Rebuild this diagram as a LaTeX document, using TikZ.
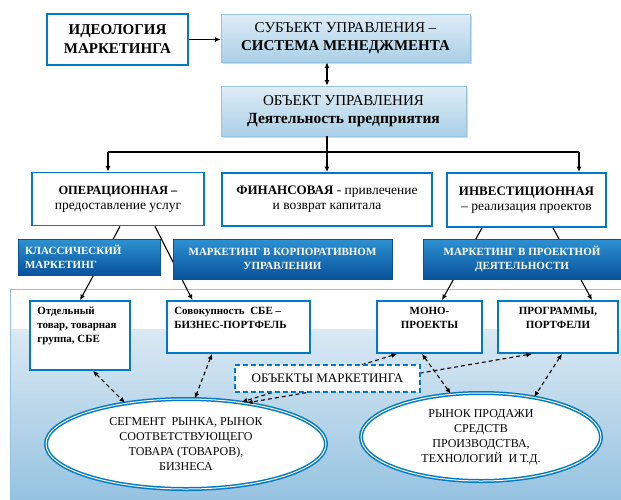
\documentclass[tikz,border=0pt]{standalone}
\usepackage{fontspec}
\setmainfont{Liberation Serif}
\usetikzlibrary{arrows.meta, positioning, calc, shapes.geometric, shadows}
\definecolor{boxblue}{RGB}{0,122,196}
\definecolor{paleedge}{RGB}{150,195,225}
\definecolor{palelight}{RGB}{222,237,246}
\definecolor{paledark}{RGB}{170,207,230}
\definecolor{bannertop}{RGB}{45,145,210}
\definecolor{bannerbot}{RGB}{8,82,155}
\definecolor{panellight}{RGB}{218,233,243}
\definecolor{paneldark}{RGB}{150,195,225}

\begin{document}
\begin{tikzpicture}[
    x=1pt, y=-1pt,
    >={Latex[length=5.5pt,width=5pt]},
    font=\fontsize{13.5}{15}\selectfont,
    whitebox/.style={draw=boxblue, line width=1.8pt, fill=white, align=center, inner sep=2pt},
    headbox/.style={draw=paleedge, line width=0.8pt, top color=palelight, bottom color=paledark, align=center,
        drop shadow={shadow xshift=1.5pt, shadow yshift=-1.5pt, opacity=0.3}},
    banner/.style={draw=bannerbot, line width=0.5pt, top color=bannertop, bottom color=bannerbot, text=white,
        font=\fontsize{11}{14}\selectfont\bfseries, align=center},
    objbox/.style={draw=boxblue, line width=1.8pt, fill=white},
    objtext/.style={font=\fontsize{11}{14}\selectfont\bfseries, inner sep=0pt},
    market/.style={ellipse, draw=boxblue, line width=1.5pt, double=white, double distance=1pt, fill=white,
        align=center, inner sep=0pt, font=\fontsize{12}{15}\selectfont},
    link/.style={->, line width=1.1pt},
    dlink/.style={<->, line width=1.1pt, dash pattern=on 4pt off 3pt}
]
\useasboundingbox (0,0) rectangle (621,499);

% Панель объектов
\fill[white] (10,289) rectangle (621,329);
\shade[top color=panellight, bottom color=paneldark] (10,329) rectangle (621,499);
\draw[paleedge, line width=1pt] (10,499) -- (10,289) -- (621,289);

% Верхний уровень
\node[whitebox, font=\fontsize{15}{19}\selectfont\bfseries, minimum width=141, minimum height=51] (ideo) at (117.5,39.5) {ИДЕОЛОГИЯ\\МАРКЕТИНГА};
\node[headbox, font=\fontsize{15}{18}\selectfont, minimum width=249, minimum height=48] (subj) at (345.5,38) {СУБЪЕКТ УПРАВЛЕНИЯ –\\\textbf{СИСТЕМА МЕНЕДЖМЕНТА}};
\node[headbox, font=\fontsize{15}{18}\selectfont, minimum width=245, minimum height=50] (obj) at (343.5,111) {ОБЪЕКТ УПРАВЛЕНИЯ\\\textbf{\fontsize{15.5}{18}\selectfont Деятельность предприятия}};

\draw[link] (ideo.east) -- (ideo.east -| subj.west);

% Виды деятельности
\node[whitebox, minimum width=172, minimum height=53] (oper) at (118,199) {\textbf{\fontsize{12.5}{15}\selectfont ОПЕРАЦИОННАЯ –}\\предоставление услуг};
\node[whitebox, minimum width=210, minimum height=53] (fin) at (327,199.5) {\textbf{\fontsize{13}{15}\selectfont ФИНАНСОВАЯ} - привлечение\\и возврат капитала};
\node[whitebox, minimum width=159, minimum height=54] (inv) at (526.5,200) {\textbf{\fontsize{13}{15}\selectfont ИНВЕСТИЦИОННАЯ}\\– реализация проектов};

\draw[<->, line width=1.1pt] (subj.south -| fin.north) -- (obj.north -| fin.north);
\coordinate (hl) at (108,152);
\coordinate (hr) at (579,152);
\draw[line width=1.1pt] (hl) -- (hr);
\draw[link] (hl) -- (hl |- oper.north);
\draw[link] (obj.south -| fin.north) -- (fin.north);
\draw[link] (hr) -- (hr |- inv.north);

% Объекты
\node[objbox, minimum width=100, minimum height=69] (sep) at (80,335.5) {};
\node[objbox, minimum width=143, minimum height=52] (sov) at (238.5,327) {};
\node[objbox, minimum width=105, minimum height=52] (mono) at (429.5,327) {};
\node[objbox, minimum width=120, minimum height=52] (prog) at (558,327) {};
\node[objtext, align=left, anchor=north west] (septext) at ([shift={(8,7)}]sep.north west) {Отдельный\\товар, товарная\\группа, СБЕ};
\node[objtext, align=left, anchor=north west] (sovtext) at ([shift={(8,7)}]sov.north west) {Совокупность\ \ СБЕ –\\БИЗНЕС-ПОРТФЕЛЬ};
\node[objtext, align=center, anchor=north] (monotext) at ([shift={(0,7)}]mono.north) {МОНО-\\ПРОЕКТЫ};
\node[objtext, align=center, anchor=north] (progtext) at ([shift={(0,7)}]prog.north) {ПРОГРАММЫ,\\ПОРТФЕЛИ};

\draw[link] ([xshift=2pt]oper.south) -- (sep.north);
\draw[link] ([xshift=37pt]oper.south) -- ([xshift=-46pt]sov.north);
\draw[link] ([xshift=-44.5pt]inv.south) -- ([xshift=12.5pt]mono.north);
\draw[link] ([xshift=26.5pt]inv.south) -- ([xshift=34pt]prog.north);

% Маркетинг
\node[banner, align=left, minimum width=142, minimum height=36, text width=128] (klass) at (89,257) {КЛАССИЧЕСКИЙ\\МАРКЕТИНГ};
\node[banner, minimum width=219, minimum height=40] (korp) at (282.5,259) {МАРКЕТИНГ В КОРПОРАТИВНОМ\\УПРАВЛЕНИИ};
\node[banner, minimum width=198, minimum height=40] (proj) at (522,259) {МАРКЕТИНГ В ПРОЕКТНОЙ\\ДЕЯТЕЛЬНОСТИ};

% Рынки
\node[market, minimum width=280, minimum height=90] (seg) at (186,444) {СЕГМЕНТ\ \ РЫНКА, РЫНОК\\СООТВЕТСТВУЮЩЕГО\\ТОВАРА (ТОВАРОВ),\\БИЗНЕСА};
\node[market, minimum width=240, minimum height=88] (sale) at (481,437) {РЫНОК ПРОДАЖИ\\СРЕДСТВ\\ПРОИЗВОДСТВА,\\ТЕХНОЛОГИЙ\ \ И Т.Д.};

\draw[dlink] ([xshift=13pt]sep.south) -- (seg.146);
\draw[dlink] ([xshift=-26.5pt]sov.south) -- (seg.79);
\draw[dlink] ([xshift=-32.5pt]mono.south) -- (seg.37);
\draw[dlink] ([xshift=-26pt]prog.south) -- (seg.34);
\draw[dlink] ([xshift=-7.5pt]mono.south) -- (sale.125);
\draw[dlink] ([xshift=4pt]prog.south) -- (sale.37);

\node[draw=boxblue, line width=1.5pt, dash pattern=on 5pt off 3pt, fill=white, minimum width=185, minimum height=27,
    font=\fontsize{13}{15}\selectfont] (obm) at (327.5,378.5) {ОБЪЕКТЫ МАРКЕТИНГА};

\end{tikzpicture}
\end{document}
